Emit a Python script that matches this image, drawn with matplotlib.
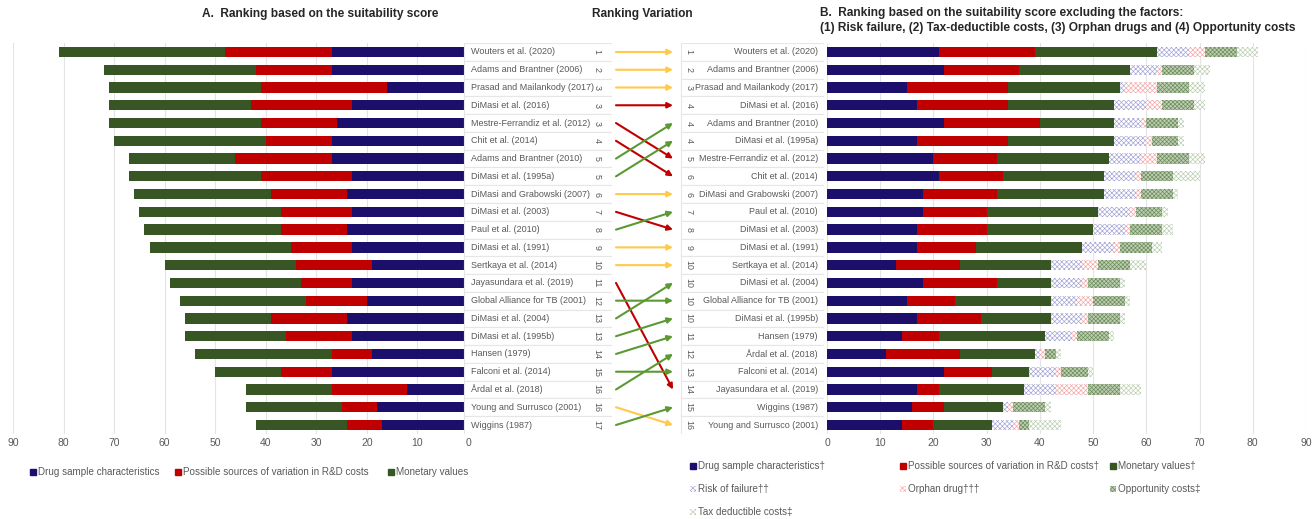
import matplotlib
matplotlib.use('Agg')
import matplotlib.pyplot as plt
from matplotlib.patches import Rectangle
import numpy as np

plt.rcParams['font.family'] = ['Liberation Sans', 'DejaVu Sans']
plt.rcParams['hatch.linewidth'] = 0.45

# ---------------- data ----------------
left_studies = ["Wouters et al. (2020)", "Adams and Brantner (2006)", "Prasad and Mailankody (2017)",
                "DiMasi et al. (2016)", "Mestre-Ferrandiz et al. (2012)", "Chit et al. (2014)",
                "Adams and Brantner (2010)", "DiMasi et al. (1995a)", "DiMasi and Grabowski (2007)",
                "DiMasi et al. (2003)", "Paul et al. (2010)", "DiMasi et al. (1991)",
                "Sertkaya et al. (2014)", "Jayasundara et al. (2019)", "Global Alliance for TB (2001)",
                "DiMasi et al. (2004)", "DiMasi et al. (1995b)", "Hansen (1979)",
                "Falconi et al. (2014)", "Årdal et al. (2018)", "Young and Surrusco (2001)",
                "Wiggins (1987)"]
left_ranks = [1, 2, 3, 3, 3, 4, 5, 5, 6, 7, 8, 9, 10, 11, 12, 13, 13, 14, 15, 16, 16, 17]
left_drug = [27, 27, 16, 23, 26, 27, 27, 23, 24, 23, 24, 23, 19, 23, 20, 24, 23, 19, 27, 12, 18, 17]
left_sources = [21, 15, 25, 20, 15, 13, 19, 18, 15, 14, 13, 12, 15, 10, 12, 15, 13, 8, 10, 15, 7, 7]
left_monetary = [33, 30, 30, 28, 30, 30, 21, 26, 27, 28, 27, 28, 26, 26, 25, 17, 20, 27, 13, 17, 19, 18]

right_studies = ["Wouters et al. (2020)", "Adams and Brantner (2006)", "Prasad and Mailankody (2017)",
                 "DiMasi et al. (2016)", "Adams and Brantner (2010)", "DiMasi et al. (1995a)",
                 "Mestre-Ferrandiz et al. (2012)", "Chit et al. (2014)", "DiMasi and Grabowski (2007)",
                 "Paul et al. (2010)", "DiMasi et al. (2003)", "DiMasi et al. (1991)",
                 "Sertkaya et al. (2014)", "DiMasi et al. (2004)", "Global Alliance for TB (2001)",
                 "DiMasi et al. (1995b)", "Hansen (1979)", "Årdal et al. (2018)",
                 "Falconi et al. (2014)", "Jayasundara et al. (2019)", "Wiggins (1987)",
                 "Young and Surrusco (2001)"]
right_ranks = [1, 2, 3, 4, 4, 4, 5, 6, 6, 7, 8, 9, 10, 10, 10, 10, 11, 12, 13, 14, 15, 16]
right_drug = [21, 22, 15, 17, 22, 17, 20, 21, 18, 18, 17, 17, 13, 18, 15, 17, 14, 11, 22, 17, 16, 14]
right_sources = [18, 14, 19, 17, 18, 17, 12, 12, 14, 12, 13, 11, 12, 14, 9, 12, 7, 14, 9, 4, 6, 6]
right_monetary = [23, 21, 21, 20, 14, 20, 21, 19, 20, 21, 20, 20, 17, 10, 18, 13, 20, 14, 7, 16, 11, 11]
right_risk = [6, 5, 1, 6, 5, 6, 6, 6, 6, 6, 6, 6, 6, 6, 5, 6, 5, 1, 5, 6, 1, 4]
right_orphan = [3, 1, 6, 3, 1, 1, 3, 1, 1, 1, 1, 1, 3, 1, 3, 1, 1, 1, 1, 6, 1, 1]
right_opportunity = [6, 6, 6, 6, 6, 5, 6, 6, 6, 5, 6, 6, 6, 6, 6, 6, 6, 2, 5, 6, 6, 2]
right_tax = [4, 3, 3, 2, 1, 1, 3, 5, 1, 1, 2, 2, 3, 1, 1, 1, 1, 1, 1, 4, 1, 6]

x_ticks = [0, 10, 20, 30, 40, 50, 60, 70, 80, 90]

# ---------------- style ----------------
NAVY = '#1b0f6b'
RED = '#c00000'
GREEN = '#375623'
GRID = '#e4e4e4'
TXT = '#595959'
ARW_YEL = '#ffc94a'
ARW_RED = '#c00000'
ARW_GRN = '#5b9a32'
RISK = dict(facecolor='white', edgecolor='#a0a0d4', hatch='xxxxxxx', lw=0)
ORPH = dict(facecolor='white', edgecolor='#f2a3a3', hatch='xxxxxxx', lw=0)
OPP = dict(facecolor='#bccdb2', edgecolor='#6a8a58', hatch='xxxxxxxx', lw=0)
TAX = dict(facecolor='white', edgecolor='#b7ccad', hatch='xxxxxxx', lw=0)

LABEL_FS = 6.5
W, H = 1314, 519
fig = plt.figure(figsize=(W / 100, H / 100), dpi=100)

def add_ax(x0, y0, x1, y1):
    return fig.add_axes([x0 / W, 1 - y1 / H, (x1 - x0) / W, (y1 - y0) / H])

n = len(left_studies)
YT, YB = 43.1, 433.9
rows = np.arange(n)
BH = 0.58

def setup_bar_ax(ax, reverse):
    ax.set_ylim(n - 0.5, -0.5)
    ax.set_xlim((90, 0) if reverse else (0, 90))
    ax.set_xticks(x_ticks)
    ax.set_xticklabels([str(t) for t in x_ticks])
    ax.tick_params(axis='x', length=0, pad=3, labelsize=7.5, labelcolor=TXT)
    ax.set_yticks([])
    for s in ax.spines.values():
        s.set_visible(False)
    for t in x_ticks:
        ax.axvline(t, color=GRID, lw=0.8, zorder=0)

# ---- left bars ----
axL = add_ax(13, YT, 468, YB)
setup_bar_ax(axL, True)
ld = np.array(left_drug); ls = np.array(left_sources); lm = np.array(left_monetary)
axL.barh(rows, ld, height=BH, color=NAVY, zorder=2)
axL.barh(rows, ls, left=ld, height=BH, color=RED, zorder=2)
axL.barh(rows, lm, left=ld + ls, height=BH, color=GREEN, zorder=2)

# ---- right bars ----
axR = add_ax(827, YT, 1306, YB)
setup_bar_ax(axR, False)
segs = [(right_drug, dict(color=NAVY)),
        (right_sources, dict(color=RED)),
        (right_monetary, dict(color=GREEN)),
        (right_risk, RISK),
        (right_orphan, ORPH),
        (right_opportunity, OPP),
        (right_tax, TAX)]
cum = np.zeros(n)
for vals, kw in segs:
    v = np.array(vals, dtype=float)
    axR.barh(rows, v, left=cum, height=BH, zorder=2, **kw)
    cum = cum + v

# ---- label tables ----
def label_ax(x0, x1, names, ranks, align, rank_x, text_x):
    ax = add_ax(x0, YT, x1, YB)
    ax.set_xlim(x0, x1)
    ax.set_ylim(n - 0.5, -0.5)
    ax.axis('off')
    for i, (nm, rk) in enumerate(zip(names, ranks)):
        ax.add_patch(Rectangle((x0 + 0.5, i - 0.5), x1 - x0 - 1, 1, facecolor='white',
                               edgecolor='#e6e6e6', lw=0.8, zorder=1))
        ax.text(text_x, i, nm, ha=align, va='center', fontsize=LABEL_FS, color=TXT, zorder=3)
        ax.text(rank_x, i, str(rk), ha='center', va='center', fontsize=6.4, color=TXT,
                rotation=270, zorder=3)
    return ax

label_ax(463, 612, left_studies, left_ranks, 'left', 597, 471)
label_ax(680, 824, right_studies, right_ranks, 'right', 689, 818)

# ---- arrows ----
axM = add_ax(612, YT, 680, YB)
axM.set_xlim(612, 680)
axM.set_ylim(n - 0.5, -0.5)
axM.axis('off')
for i, nm in enumerate(left_studies):
    j = right_studies.index(nm)
    lr, rr = left_ranks[i], right_ranks[j]
    c = ARW_GRN if rr < lr else (ARW_RED if rr > lr else ARW_YEL)
    axM.annotate('', xy=(673, j), xytext=(616, i),
                 arrowprops=dict(arrowstyle='-|>', color=c, lw=1.5, mutation_scale=8,
                                 shrinkA=0, shrinkB=0))

# ---- titles ----
TFS = 8.6
fig.text(320 / W, 1 - 14 / H, "A.  Ranking based on the suitability score", ha='center', va='center',
         fontsize=TFS, fontweight='bold', color='#262626')
fig.text(642 / W, 1 - 14 / H, "Ranking Variation", ha='center', va='center',
         fontsize=TFS, fontweight='bold', color='#262626')
fig.text(820 / W, 1 - 13 / H, "B.  Ranking based on the suitability score excluding the factors:",
         ha='left', va='center', fontsize=TFS, fontweight='bold', color='#262626')
fig.text(820 / W, 1 - 28 / H,
         "(1) Risk failure, (2) Tax-deductible costs, (3) Orphan drugs and (4) Opportunity costs",
         ha='left', va='center', fontsize=TFS, fontweight='bold', color='#262626')

# ---- legends (manual) ----
axLeg = fig.add_axes([0, 0, 1, 1])
axLeg.set_xlim(0, W)
axLeg.set_ylim(H, 0)
axLeg.axis('off')

def leg_item(x, y, label, **kw):
    axLeg.add_patch(Rectangle((x, y - 3), 6, 6, **kw))
    axLeg.text(x + 8, y, label, ha='left', va='center', fontsize=7.1, color=TXT)

leg_item(30, 472, "Drug sample characteristics", color=NAVY)
leg_item(175, 472, "Possible sources of variation in R&D costs", color=RED)
leg_item(388, 472, "Monetary values", color=GREEN)

leg_item(690, 466, "Drug sample characteristics†", color=NAVY)
leg_item(900, 466, "Possible sources of variation in R&D costs†", color=RED)
leg_item(1110, 466, "Monetary values†", color=GREEN)
leg_item(690, 489, "Risk of failure††", **RISK)
leg_item(900, 489, "Orphan drug†††", **ORPH)
leg_item(1110, 489, "Opportunity costs‡", **OPP)
leg_item(690, 512, "Tax deductible costs‡", **TAX)

fig.savefig('out.png', dpi=100)
